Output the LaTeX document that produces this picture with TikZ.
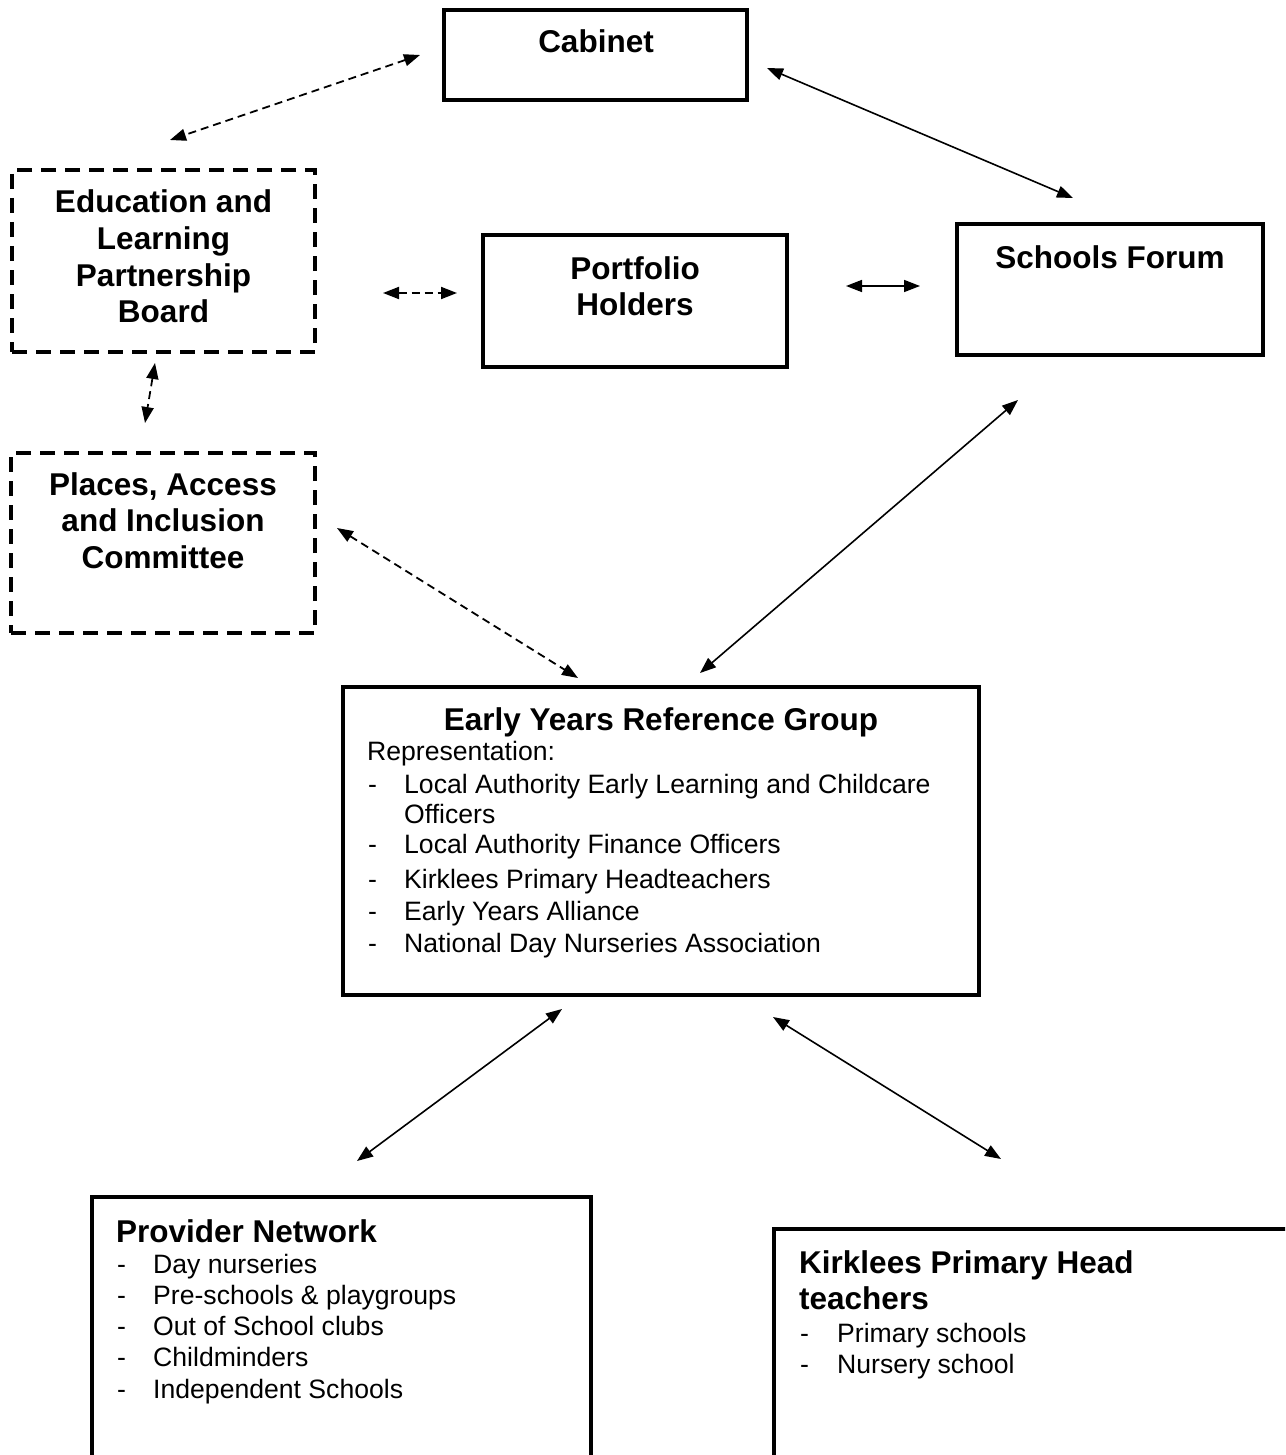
\documentclass[tikz,border=0pt]{standalone}
\usepackage{fontspec}
\setmainfont{Liberation Sans}
\usetikzlibrary{arrows.meta}
\newcommand\mytitlef{\fontsize{31.5}{36}\selectfont\bfseries}
\newcommand\mybodyf{\fontsize{26.6}{31}\selectfont}
\begin{document}
\begin{tikzpicture}[x=1pt,y=-1pt,
  box/.style={draw, line width=3.3pt, inner sep=0pt, outer sep=0pt},
  dbox/.style={box, dash pattern=on 15pt off 9pt},
  ttl/.style={font=\mytitlef, inner sep=0pt, anchor=base},
  ttlw/.style={font=\mytitlef, inner sep=0pt, anchor=base west},
  bdy/.style={font=\mybodyf, inner sep=0pt, anchor=base west},
  link/.style={line width=1.6pt, {Triangle[length=16pt,width=12pt]}-{Triangle[length=16pt,width=12pt]}},
  dlink/.style={link, line width=1.8pt, dash pattern=on 8pt off 5pt}]
\path[use as bounding box] (0,0) rectangle (1285,1455);
\clip (0,0) rectangle (1285,1455);

% boxes
\node[box, minimum width=303pt, minimum height=90pt] (cab) at (595.5,55) {};
\node[dbox, minimum width=303pt, minimum height=182pt] (edu) at (163.5,261) {};
\node[box, minimum width=304pt, minimum height=132pt] (port) at (635,301) {};
\node[box, minimum width=306pt, minimum height=131pt] (sf) at (1110,289.5) {};
\node[dbox, minimum width=304pt, minimum height=180pt] (pac) at (163,543) {};
\node[box, minimum width=636pt, minimum height=308pt] (eyrg) at (661,841) {};
\node[box, minimum width=499pt, minimum height=283pt] (prov) at (341.5,1338.5) {};
\node[box, minimum width=526pt, minimum height=251pt] (kirk) at (1037,1354.5) {};

% texts
\node[ttl] (cabt) at (596,53) {Cabinet};
\node[ttl] (edut1) at (163.5,213) {Education and};
\node[ttl] (edut2) at (163.5,249.5) {Learning};
\node[ttl] (edut3) at (163.5,286) {Partnership};
\node[ttl] (edut4) at (163.5,322.5) {Board};
\node[ttl] (portt1) at (635,279) {Portfolio};
\node[ttl] (portt2) at (635,315) {Holders};
\node[ttl] (sft) at (1110,268) {Schools Forum};
\node[ttl] (pact1) at (163,495) {Places, Access};
\node[ttl] (pact2) at (163,531.5) {and Inclusion};
\node[ttl] (pact3) at (163,568) {Committee};

\node[ttl] (eyrgt) at (661,730) {Early Years Reference Group};
\node[bdy] (eyrgr) at (367,760) {Representation:};
\foreach \y/\t [count=\i] in {793/Local Authority Early Learning and Childcare,
  853/Local Authority Finance Officers, 888/Kirklees Primary Headteachers,
  920/Early Years Alliance, 952/National Day Nurseries Association}{
  \node[bdy] (eyrgd\i) at (368,\y) {-};
  \node[bdy] (eyrgi\i) at (404,\y) {\t};
}
\node[bdy] (eyrgi1b) at (404,823) {Officers};

\node[ttlw] (provt) at (116,1242) {Provider Network};
\foreach \y/\t [count=\i] in {1273/Day nurseries, 1304/Pre-schools \& playgroups,
  1335/Out of School clubs, 1366/Childminders, 1398/Independent Schools}{
  \node[bdy] (provd\i) at (117,\y) {-};
  \node[bdy] (provi\i) at (153,\y) {\t};
}

\node[ttlw] (kirkt1) at (799,1273) {Kirklees Primary Head};
\node[ttlw] (kirkt2) at (799,1309) {teachers};
\foreach \y/\t [count=\i] in {1342/Primary schools, 1373/Nursery school}{
  \node[bdy] (kirkd\i) at (800,\y) {-};
  \node[bdy] (kirki\i) at (837,\y) {\t};
}

% connector ends
\coordinate (a1s) at (420,55);   \coordinate (a1e) at (170,140);
\coordinate (a2s) at (767,68);   \coordinate (a2e) at (1073,198);
\coordinate (a3s) at (383,293);  \coordinate (a3e) at (457,293);
\coordinate (a4s) at (846,286);  \coordinate (a4e) at (920,286);
\coordinate (a5s) at (155,363);  \coordinate (a5e) at (145,423);
\coordinate (a6s) at (337,528);  \coordinate (a6e) at (578,678);
\coordinate (a7s) at (1018,400); \coordinate (a7e) at (700,673);
\coordinate (a8s) at (562,1009); \coordinate (a8e) at (357,1161);
\coordinate (a9s) at (773,1017); \coordinate (a9e) at (1001,1159);

\draw[dlink] (a1s) -- (a1e);
\draw[link]  (a2s) -- (a2e);
\draw[dlink] (a3s) -- (a3e);
\draw[link]  (a4s) -- (a4e);
\draw[dlink] (a5s) -- (a5e);
\draw[dlink] (a6s) -- (a6e);
\draw[link]  (a7s) -- (a7e);
\draw[link]  (a8s) -- (a8e);
\draw[link]  (a9s) -- (a9e);
\end{tikzpicture}
\end{document}
